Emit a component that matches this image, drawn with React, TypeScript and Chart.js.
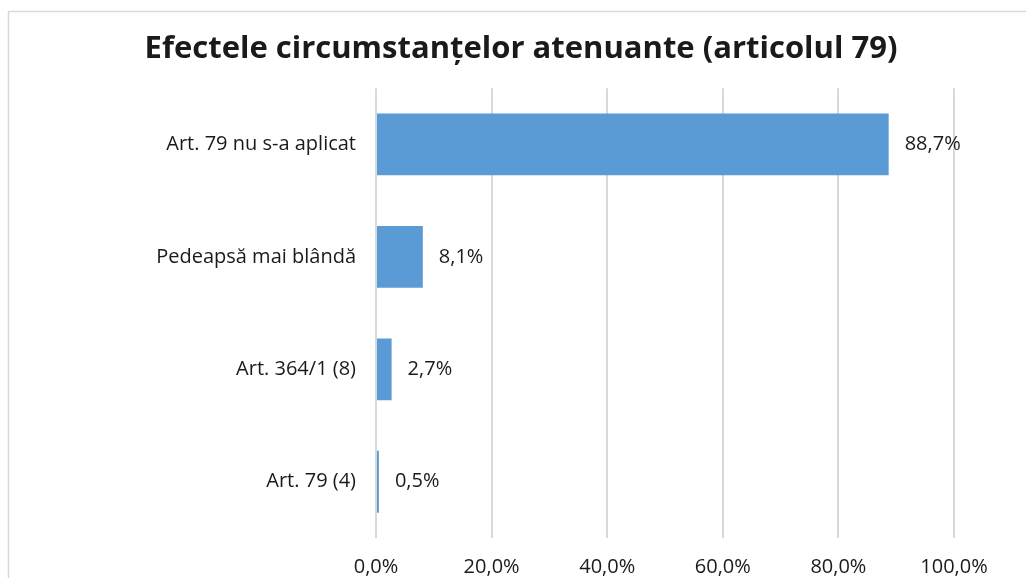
import React, { useEffect, useRef } from "react";
import { Chart, registerables } from "chart.js";

Chart.register(...registerables);

const titleText = "Efectele circumstanțelor atenuante (articolul 79)";
const categories = ["Art. 79 nu s-a aplicat", "Pedeapsă mai blândă", "Art. 364/1 (8)", "Art. 79 (4)"];
const values = [88.7, 8.1, 2.7, 0.5];
const valueLabels = ["88,7%", "8,1%", "2,7%", "0,5%"];
const xTickMin = 0;
const xTickMax = 100;
const xTickStep = 20;

const FONT = "'Open Sans', sans-serif";
const TEXT = "#1a1a1a";

const borderPlugin = {
  id: "frameBorder",
  beforeDraw(chart: any) {
    const ctx = chart.ctx;
    ctx.save();
    ctx.strokeStyle = "#d9d9d9";
    ctx.lineWidth = 1.5;
    ctx.beginPath();
    ctx.moveTo(8.5, chart.height);
    ctx.lineTo(8.5, 11.5);
    ctx.lineTo(chart.width, 11.5);
    ctx.stroke();
    ctx.restore();
  },
};

const valueLabelPlugin = {
  id: "valueLabels",
  afterDatasetsDraw(chart: any) {
    const ctx = chart.ctx;
    const meta = chart.getDatasetMeta(0);
    ctx.save();
    ctx.font = `20px ${FONT}`;
    ctx.fillStyle = TEXT;
    ctx.textAlign = "left";
    ctx.textBaseline = "middle";
    meta.data.forEach((bar: any, i: number) => {
      ctx.fillText(valueLabels[i], bar.x + 16, bar.y);
    });
    ctx.restore();
  },
};

export default function App() {
  const ref = useRef<HTMLCanvasElement>(null);
  useEffect(() => {
    if (!ref.current) return;
    const chart = new Chart(ref.current, {
      type: "bar",
      data: {
        labels: categories,
        datasets: [
          {
            data: values,
            backgroundColor: "#5b9bd5",
            borderWidth: 0,
            barPercentage: 0.55,
            categoryPercentage: 1,
          },
        ],
      },
      options: {
        indexAxis: "y",
        responsive: false,
        animation: false,
        devicePixelRatio: 1,
        layout: { padding: { left: 88, right: 72, top: 0, bottom: 0 } },
        plugins: {
          legend: { display: false },
          tooltip: { enabled: false },
          title: {
            display: true,
            text: titleText,
            color: TEXT,
            font: { family: FONT, size: 31, weight: "bold", lineHeight: 1.2 },
            padding: { top: 31, bottom: 20 },
          },
        },
        scales: {
          x: {
            min: xTickMin,
            max: xTickMax,
            ticks: {
              stepSize: xTickStep,
              color: TEXT,
              font: { family: FONT, size: 20 },
              padding: 17,
              maxRotation: 0,
              callback: (v: any) => Number(v).toFixed(1).replace(".", ",") + "%",
            },
            grid: { color: "#d9d9d9", lineWidth: 2, drawTicks: false },
            border: { display: false },
            afterFit: (s: any) => {
              s.height = 40;
            },
          },
          y: {
            ticks: {
              color: TEXT,
              font: { family: FONT, size: 20 },
              padding: 20,
            },
            grid: { display: false, drawTicks: false },
            border: { display: false },
            afterFit: (s: any) => {
              s.width = 288;
            },
          },
        },
      },
      plugins: [borderPlugin, valueLabelPlugin],
    });
    return () => chart.destroy();
  }, []);
  return (
    <canvas
      ref={ref}
      width={1026}
      height={578}
      style={{ position: "fixed", left: 0, top: 0, width: 1026, height: 578, display: "block" }}
    />
  );
}
